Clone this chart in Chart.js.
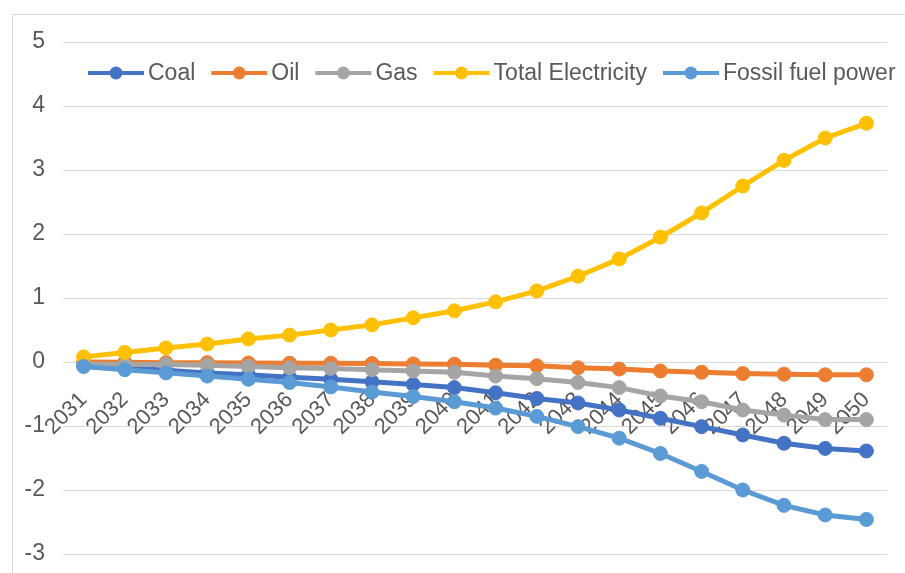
<!DOCTYPE html>
<html>
<head>
<meta charset="utf-8">
<script src="https://cdn.jsdelivr.net/npm/chart.js@4"></script>
<style>
  html, body { margin: 0; padding: 0; background: #fff; }
  #wrap { position: relative; width: 905px; height: 573px; overflow: hidden; }
  #frame { position: absolute; left: 12px; top: 14px; width: 905px; height: 600px; border: 1px solid #d9d9d9; box-sizing: border-box; }
  canvas { position: absolute; left: 0; top: 0; }
</style>
</head>
<body>
<div id="wrap">
  <div id="frame"></div>
  <canvas id="chart" width="905" height="573"></canvas>
</div>
<script>
const years = ["2031", "2032", "2033", "2034", "2035", "2036", "2037", "2038", "2039", "2040",
  "2041", "2042", "2043", "2044", "2045", "2046", "2047", "2048", "2049", "2050"];

const coal = [-0.05, -0.09, -0.13, -0.17, -0.20, -0.24, -0.27, -0.31, -0.35, -0.40,
  -0.48, -0.57, -0.64, -0.75, -0.88, -1.01, -1.14, -1.27, -1.35, -1.39];
const oil = [0, -0.005, -0.01, -0.01, -0.015, -0.02, -0.02, -0.025, -0.03, -0.035,
  -0.05, -0.06, -0.09, -0.11, -0.14, -0.16, -0.18, -0.19, -0.20, -0.20];
const gas = [-0.03, -0.04, -0.04, -0.05, -0.07, -0.09, -0.10, -0.12, -0.14, -0.16,
  -0.22, -0.26, -0.32, -0.40, -0.53, -0.62, -0.75, -0.83, -0.90, -0.90];
const totalElectricity = [0.08, 0.15, 0.22, 0.28, 0.36, 0.42, 0.50, 0.58, 0.69, 0.80,
  0.94, 1.11, 1.34, 1.61, 1.95, 2.33, 2.75, 3.15, 3.50, 3.73];
const fossilFuelPower = [-0.07, -0.12, -0.17, -0.22, -0.27, -0.32, -0.39, -0.47, -0.54, -0.62,
  -0.72, -0.85, -1.01, -1.19, -1.43, -1.71, -2.00, -2.24, -2.39, -2.46];

const yTicks = [-3, -2, -1, 0, 1, 2, 3, 4, 5];

const FONT = "'Liberation Sans', Arial, sans-serif";
const TEXT = "#595959";

function series(label, data, color, order) {
  return {
    label: label,
    data: data,
    borderColor: color,
    backgroundColor: color,
    pointBackgroundColor: color,
    pointBorderColor: color,
    borderWidth: 5,
    pointRadius: 7,
    pointBorderWidth: 1,
    tension: 0,
    order: order,
  };
}

// no label overflow padding, the plot box is fixed by layout.padding
function noPadding(scale) {
  scale.paddingTop = 0;
  scale.paddingBottom = 0;
  scale.paddingLeft = 0;
  scale.paddingRight = 0;
}

// legend drawn inside the plot, like the Excel one
const insideLegend = {
  id: "insideLegend",
  afterDraw(chart) {
    const ctx = chart.ctx;
    const y = 73;
    let x = 88;
    ctx.save();
    ctx.font = "23px " + FONT;
    ctx.textBaseline = "middle";
    chart.data.datasets.forEach((ds) => {
      ctx.strokeStyle = ds.borderColor;
      ctx.lineWidth = 4;
      ctx.beginPath();
      ctx.moveTo(x, y);
      ctx.lineTo(x + 56, y);
      ctx.stroke();
      ctx.fillStyle = ds.borderColor;
      ctx.beginPath();
      ctx.arc(x + 28, y, 6.5, 0, Math.PI * 2);
      ctx.fill();
      ctx.fillStyle = TEXT;
      ctx.fillText(ds.label, x + 60, y + 1);
      x += 60 + ctx.measureText(ds.label).width + 16;
    });
    ctx.restore();
  },
};

new Chart(document.getElementById("chart").getContext("2d"), {
  type: "line",
  data: {
    labels: years,
    datasets: [
      series("Coal", coal, "#4472C4", 5),
      series("Oil", oil, "#ED7D31", 4),
      series("Gas", gas, "#A5A5A5", 3),
      series("Total Electricity", totalElectricity, "#FFC000", 2),
      series("Fossil fuel power", fossilFuelPower, "#5B9BD5", 1),
    ],
  },
  options: {
    responsive: false,
    animation: false,
    layout: { padding: { top: 42, bottom: 19, right: 18, left: 0 } },
    scales: {
      x: {
        position: { y: 0 },
        offset: true,
        afterFit: noPadding,
        grid: { display: false, drawTicks: false },
        border: { display: false },
        ticks: {
          color: TEXT,
          font: { family: FONT, size: 22 },
          minRotation: 45,
          maxRotation: 45,
          padding: 25,
          autoSkip: false,
        },
      },
      y: {
        min: -3,
        max: 5,
        afterFit(scale) {
          noPadding(scale);
          scale.width = 63;
        },
        afterBuildTicks(scale) { scale.ticks = yTicks.map((v) => ({ value: v })); },
        grid: { color: "#d9d9d9", lineWidth: 1, drawTicks: false },
        border: { display: false },
        ticks: {
          color: TEXT,
          font: { family: FONT, size: 23 },
          padding: 18,
        },
      },
    },
    plugins: {
      legend: { display: false },
      tooltip: { enabled: false },
    },
  },
  plugins: [insideLegend],
});
</script>
</body>
</html>
